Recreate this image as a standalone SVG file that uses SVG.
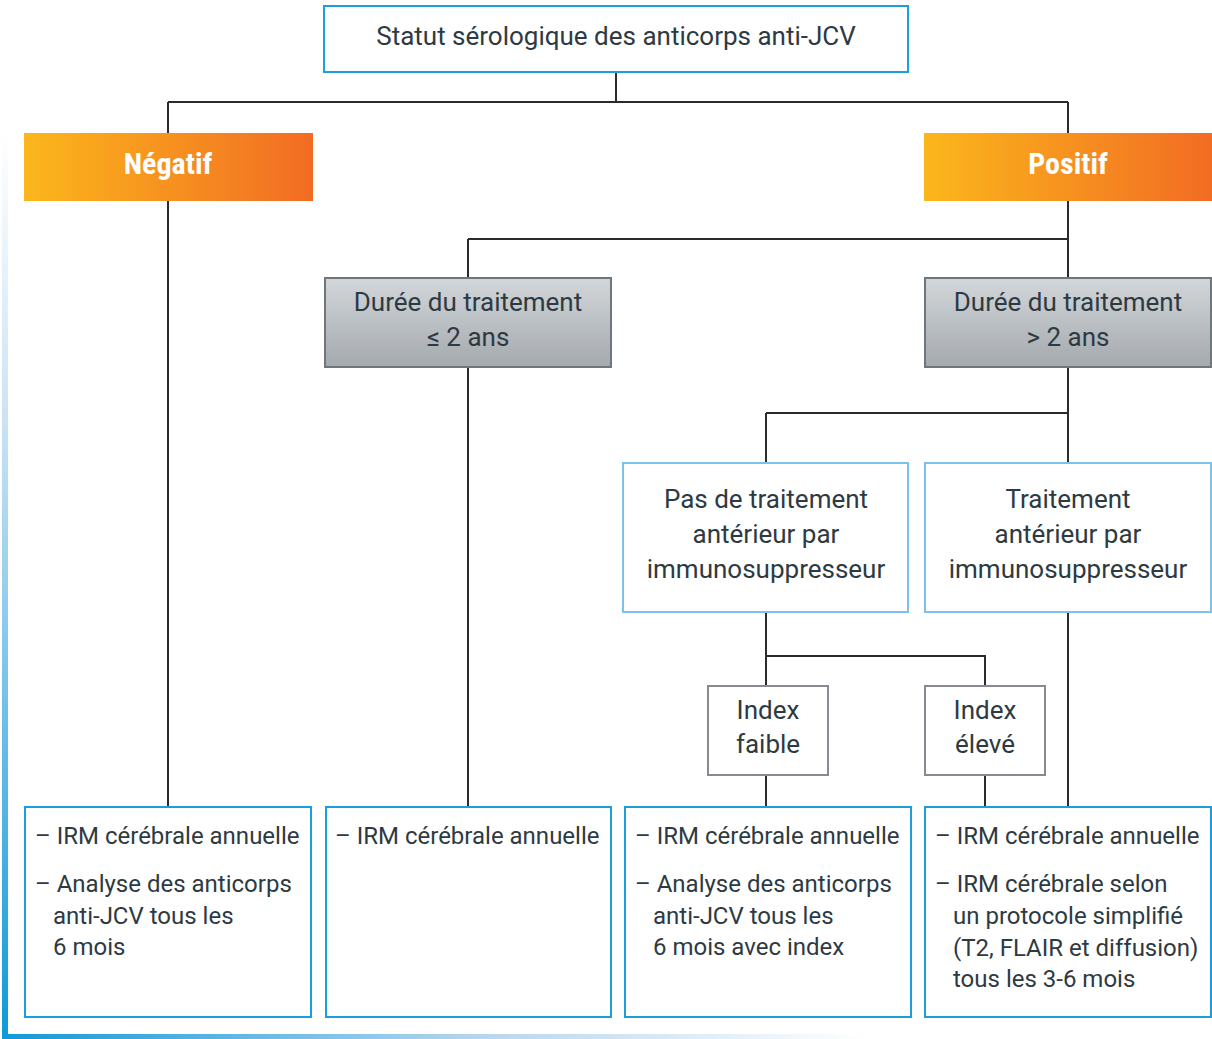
<svg xmlns="http://www.w3.org/2000/svg" width="1212" height="1039" viewBox="0 0 1212 1039">
<defs>
<linearGradient id="orange" x1="0" y1="0" x2="1" y2="0">
<stop offset="0" stop-color="#fbb71c"/><stop offset="1" stop-color="#f26c23"/>
</linearGradient>
<linearGradient id="gray" x1="0" y1="0" x2="0" y2="1">
<stop offset="0" stop-color="#d3d7da"/><stop offset="1" stop-color="#a4a9ae"/>
</linearGradient>
<linearGradient id="leftbar" x1="0" y1="0" x2="0" y2="1">
<stop offset="0" stop-color="#ffffff"/><stop offset="0.3" stop-color="#cfe4f5"/><stop offset="1" stop-color="#0e9ad8"/>
</linearGradient>
<linearGradient id="bottombar" x1="0" y1="0" x2="1" y2="0">
<stop offset="0" stop-color="#0e9ad8"/><stop offset="0.55" stop-color="#b5d6ef"/><stop offset="1" stop-color="#ffffff"/>
</linearGradient>
<style>
text{font-family:Roboto,"Liberation Sans",sans-serif;fill:#2e3a42;font-size:26px}
.s{font-size:24px}
.c{text-anchor:middle}
.w{font-family:"Roboto Condensed",Roboto,sans-serif;fill:#ffffff;font-weight:bold;font-size:30px}
.blue{fill:#ffffff;stroke:#1a9fdb;stroke-width:2}
.lblue{fill:#ffffff;stroke:#7cc1e9;stroke-width:2}
.gbox{fill:url(#gray);stroke:#6f777d;stroke-width:2}
.ibox{fill:#ffffff;stroke:#858b90;stroke-width:2}
.con{fill:none;stroke:#2b2b2b;stroke-width:2}
</style>
</defs>
<rect width="1212" height="1039" fill="#ffffff"/>
<g id="frame">
<rect x="2" y="133" width="6" height="906" fill="url(#leftbar)"/>
<rect x="2" y="1034" width="866" height="5" fill="url(#bottombar)"/>
</g>
<g id="connectors">
<path class="con" d="M616 72V102M168 102H1068M168 102V133M1068 102V133"/>
<path class="con" d="M168 201V807"/>
<path class="con" d="M1068 201V278M468 239H1068M468 239V278"/>
<path class="con" d="M468 367V807"/>
<path class="con" d="M1068 367V463M766 413H1068M766 413V463"/>
<path class="con" d="M766 612V686M766 656H985V686"/>
<path class="con" d="M766 775V807M985 775V807M1068 612V807"/>
</g>
<g id="n-statut">
<rect class="blue" x="324" y="6" width="584" height="66"/>
<text class="c" x="616" y="45">Statut sérologique des anticorps anti-JCV</text>
</g>
<g id="n-negatif">
<rect x="24" y="133" width="289" height="68" fill="url(#orange)"/>
<text class="c w" x="168" y="174">Négatif</text>
</g>
<g id="n-positif">
<rect x="924" y="133" width="288" height="68" fill="url(#orange)"/>
<text class="c w" x="1068" y="174">Positif</text>
</g>
<g id="n-duree-le2">
<rect class="gbox" x="325" y="278" width="286" height="89"/>
<text class="c" x="468" y="311">Durée du traitement</text>
<text class="c" x="468" y="346">≤ 2 ans</text>
</g>
<g id="n-duree-gt2">
<rect class="gbox" x="925" y="278" width="286" height="89"/>
<text class="c" x="1068" y="311">Durée du traitement</text>
<text class="c" x="1068" y="346">&gt; 2 ans</text>
</g>
<g id="n-pas-trait">
<rect class="lblue" x="623" y="463" width="285" height="149"/>
<text class="c" x="766" y="508">Pas de traitement</text>
<text class="c" x="766" y="543">antérieur par</text>
<text class="c" x="766" y="578">immunosuppresseur</text>
</g>
<g id="n-trait">
<rect class="lblue" x="925" y="463" width="286" height="149"/>
<text class="c" x="1068" y="508">Traitement</text>
<text class="c" x="1068" y="543">antérieur par</text>
<text class="c" x="1068" y="578">immunosuppresseur</text>
</g>
<g id="n-index-faible">
<rect class="ibox" x="708" y="686" width="120" height="89"/>
<text class="c" x="768" y="719">Index</text>
<text class="c" x="768" y="753">faible</text>
</g>
<g id="n-index-eleve">
<rect class="ibox" x="925" y="686" width="120" height="89"/>
<text class="c" x="985" y="719">Index</text>
<text class="c" x="985" y="753">élevé</text>
</g>
<g id="n-out1">
<rect class="blue" x="25" y="807" width="286" height="210"/>
<text class="s" x="35" y="844">– IRM cérébrale annuelle</text>
<text class="s" x="35" y="892">– Analyse des anticorps</text>
<text class="s" x="53" y="924">anti-JCV tous les</text>
<text class="s" x="53" y="955">6 mois</text>
</g>
<g id="n-out2">
<rect class="blue" x="326" y="807" width="285" height="210"/>
<text class="s" x="335" y="844">– IRM cérébrale annuelle</text>
</g>
<g id="n-out3">
<rect class="blue" x="625" y="807" width="286" height="210"/>
<text class="s" x="635" y="844">– IRM cérébrale annuelle</text>
<text class="s" x="635" y="892">– Analyse des anticorps</text>
<text class="s" x="653" y="924">anti-JCV tous les</text>
<text class="s" x="653" y="955">6 mois avec index</text>
</g>
<g id="n-out4">
<rect class="blue" x="925" y="807" width="286" height="210"/>
<text class="s" x="935" y="844">– IRM cérébrale annuelle</text>
<text class="s" x="935" y="892">– IRM cérébrale selon</text>
<text class="s" x="953" y="924">un protocole simplifié</text>
<text class="s" x="953" y="956">(T2, FLAIR et diffusion)</text>
<text class="s" x="953" y="987">tous les 3-6 mois</text>
</g>
</svg>
